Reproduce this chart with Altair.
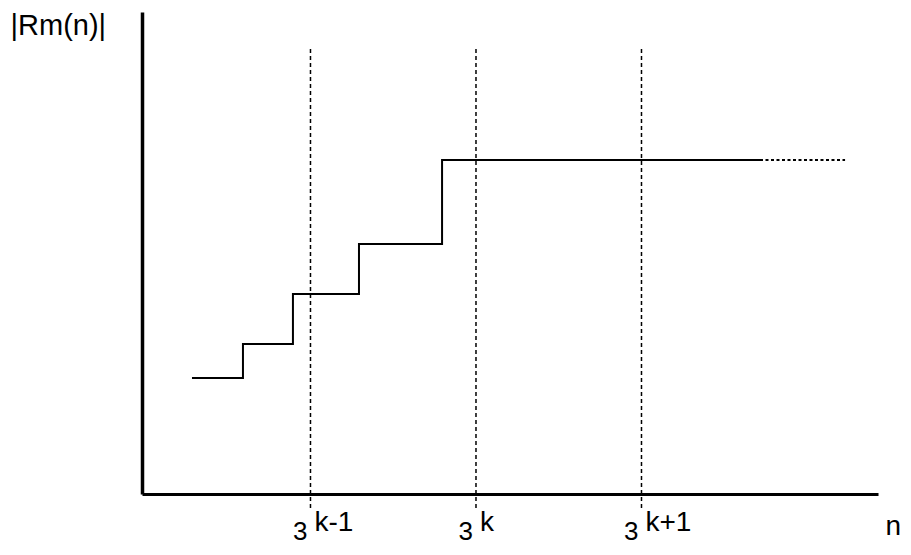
import altair as alt
import pandas as pd

# positions on a log3 axis, measured relative to 3^k
step_x = [-1.716, -1.408, -1.106, -0.707, -0.205, 1.716]
step_y = [116, 150, 200, 250, 334, 334]
tail_x = [1.716, 2.230]
tail_y = [334, 334]
tick_pos = [-1, 0, 1]
tick_exp = ["k-1", "k", "k+1"]
rule_top = 448
rule_bottom = -14
x_domain = [-2.018, 2.429]
y_domain = [0, 482]

FONT = "Liberation Sans"

steps = pd.DataFrame({"t": step_x, "v": step_y})
tail = pd.DataFrame({"t": tail_x, "v": tail_y})
ticks = pd.DataFrame({
    "t": tick_pos,
    "exp": tick_exp,
    "base": ["3"] * len(tick_pos),
    "y0": [rule_bottom] * len(tick_pos),
    "y1": [rule_top] * len(tick_pos),
    "yb": [-46] * len(tick_pos),
    "ys": [-37] * len(tick_pos),
})

xs = alt.Scale(domain=x_domain, nice=False, zero=False)
ys = alt.Scale(domain=y_domain, nice=False, zero=False)

xaxis = alt.Axis(domain=True, domainColor="black", domainWidth=3, ticks=False,
                 labels=False, grid=False, title="n", titleX=743, titleY=40,
                 titleAlign="left", titleBaseline="alphabetic", titleFontSize=28,
                 titleFont=FONT, titleFontWeight="normal", titleAngle=0,
                 titleColor="black")
yaxis = alt.Axis(domain=True, domainColor="black", domainWidth=3.5, ticks=False,
                 labels=False, grid=False, title="|Rm(n)|", titleX=-132, titleY=-1,
                 titleAlign="left", titleBaseline="top", titleFontSize=29,
                 titleFont=FONT, titleFontWeight="normal", titleAngle=0,
                 titleColor="black")

line = alt.Chart(steps).mark_line(interpolate="step-after", color="black",
                                  strokeWidth=2).encode(
    x=alt.X("t:Q", scale=xs, axis=xaxis),
    y=alt.Y("v:Q", scale=ys, axis=yaxis),
)

dotted = alt.Chart(tail).mark_line(color="black", strokeWidth=2,
                                   strokeDash=[3, 2.5]).encode(
    x=alt.X("t:Q", scale=xs),
    y=alt.Y("v:Q", scale=ys),
)

rules = alt.Chart(ticks).mark_rule(color="black", strokeWidth=1.5,
                                   strokeDash=[4, 3]).encode(
    x=alt.X("t:Q", scale=xs),
    y=alt.Y("y0:Q", scale=ys),
    y2="y1:Q",
)

base_txt = alt.Chart(ticks).mark_text(align="right", baseline="alphabetic",
                                      dx=-3, fontSize=26, font=FONT,
                                      color="black").encode(
    x=alt.X("t:Q", scale=xs),
    y=alt.Y("yb:Q", scale=ys),
    text="base:N",
)

sup_txt = alt.Chart(ticks).mark_text(align="left", baseline="alphabetic",
                                     dx=4, fontSize=28, font=FONT,
                                     color="black").encode(
    x=alt.X("t:Q", scale=xs),
    y=alt.Y("ys:Q", scale=ys),
    text="exp:N",
)

chart = alt.layer(rules, line, dotted, base_txt, sup_txt).properties(
    width=736, height=482,
    autosize=alt.AutoSizeParams(type="none"),
    padding={"left": 134, "top": 4, "right": 25, "bottom": 53},
    background="white",
).configure_view(strokeWidth=0)

chart.save("out.html", embed_options={"renderer": "svg", "actions": False})
